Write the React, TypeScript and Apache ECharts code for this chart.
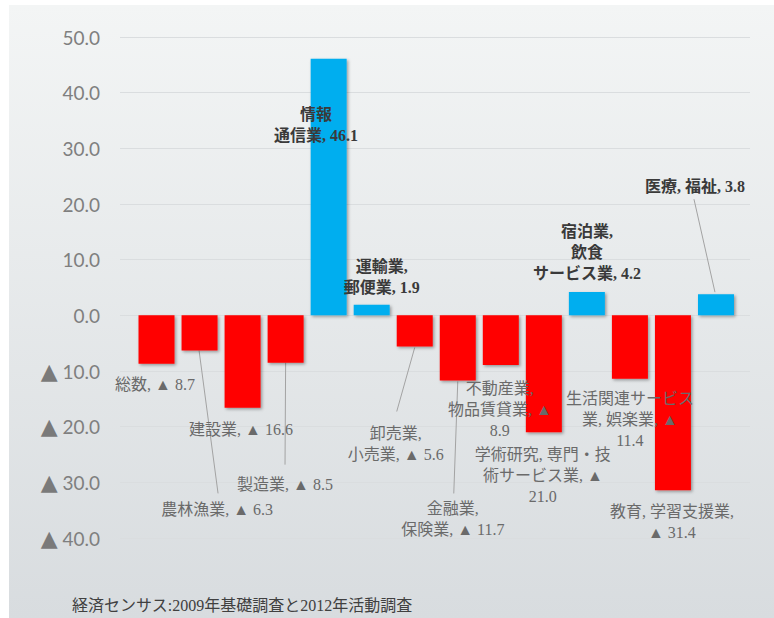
import React, { useEffect, useRef } from "react";
import * as echarts from "echarts";

// ---- data ----
const categories = [
  "総数",
  "農林漁業",
  "建設業",
  "製造業",
  "情報通信業",
  "運輸業,郵便業",
  "卸売業,小売業",
  "金融業,保険業",
  "不動産業,物品賃貸業",
  "学術研究,専門・技術サービス業",
  "宿泊業,飲食サービス業",
  "生活関連サービス業,娯楽業",
  "教育,学習支援業",
  "医療,福祉",
];
const values = [-8.7, -6.3, -16.6, -8.5, 46.1, 1.9, -5.6, -11.7, -8.9, -21.0, 4.2, -11.4, -31.4, 3.8];
const labelTexts = [
  "総数, ▲ 8.7",
  "農林漁業, ▲ 6.3",
  "建設業, ▲ 16.6",
  "製造業, ▲ 8.5",
  "情報\n通信業, 46.1",
  "運輸業,\n郵便業, 1.9",
  "卸売業,\n小売業, ▲ 5.6",
  "金融業,\n保険業, ▲ 11.7",
  "不動産業,\n物品賃貸業, ▲\n8.9",
  "学術研究, 専門・技\n術サービス業, ▲\n21.0",
  "宿泊業,\n飲食\nサービス業, 4.2",
  "生活関連サービス\n業, 娯楽業, ▲\n11.4",
  "教育, 学習支援業,\n▲ 31.4",
  "医療, 福祉, 3.8",
];
const yMin = -40;
const yMax = 50;
const yStep = 10;
const sourceNote = "経済センサス:2009年基礎調査と2012年活動調査";

// ---- layout (label placement relative to each bar's end) ----
const labelOffsets: [number, number][] = [
  [-1.5, 10],
  [17.5, 148.5],
  [-1.6, 11],
  [-0.6, 111],
  [-12.7, 45],
  [10, -49],
  [-19, 76],
  [-5, 118],
  [-1, 13],
  [-1, 11.6],
  [0, -71],
  [0, 9],
  [-1, 10.7],
  [-21, -118],
];
// [startDx, startDy (from bar end), endDx, endDy (from label anchor)]
const leaderLines: (null | [number, number, number, number])[] = [
  null,
  [-0.5, 0, 1, -5.5],
  null,
  [0, 0, 0, -9],
  null,
  null,
  [0, 1, 1, -11],
  [0, 1, 1, -5],
  null,
  null,
  null,
  null,
  null,
  [-1, -2, -1, 23],
];

const BLUE = "#00aeef";
const RED = "#ff0000";
const LABEL_FONT = '"Liberation Serif", "Noto Sans CJK JP", serif';

export default function App() {
  const ref = useRef<HTMLDivElement>(null);
  useEffect(() => {
    document.body.style.margin = "0";
    if (!ref.current) return;
    const chart = echarts.init(ref.current, undefined, { renderer: "svg" });
    const leaderData = values
      .map((v, i) => [i, v])
      .filter((d) => leaderLines[d[0]] != null);
    const option: any = {
      animation: false,
      graphic: [
        {
          type: "rect",
          z: -10,
          silent: true,
          shape: { x: 9, y: 5, width: 765, height: 613 },
          style: {
            fill: new echarts.graphic.LinearGradient(0, 0, 0, 1, [
              { offset: 0, color: "#f3f5f5" },
              { offset: 1, color: "#d8dcdf" },
            ]),
          },
        },
        {
          type: "text",
          left: 72,
          top: 597,
          style: { text: sourceNote, font: '16px "Liberation Serif", "Noto Sans CJK JP", serif', fill: "#404040" },
        },
      ],
      grid: [
        { left: 120, right: 24, top: 37, bottom: 80 },
        { left: 135, right: 36.5, top: 37, bottom: 80 },
      ],
      xAxis: [
        { type: "category", gridIndex: 0, data: [""], show: false },
        { type: "category", gridIndex: 1, data: categories, show: false },
      ],
      yAxis: [
        {
          type: "value",
          gridIndex: 0,
          min: yMin,
          max: yMax,
          interval: yStep,
          axisLine: { show: false },
          axisTick: { show: false },
          splitLine: { lineStyle: { color: "#dadddf", width: 1 } },
          axisLabel: {
            margin: 20,
            color: "#7f7f7f",
            fontFamily: "Lato",
            fontSize: 19,
            formatter: (v: number) => (v < 0 ? "{t|▲} " + (-v).toFixed(1) : v.toFixed(1)),
            rich: {
              t: { fontSize: 22, fontFamily: "DejaVu Sans", color: "#7a7a7a" },
            },
          },
        },
        { type: "value", gridIndex: 1, min: yMin, max: yMax, interval: yStep, show: false, splitLine: { show: false } },
      ],
      series: [
        {
          type: "bar",
          xAxisIndex: 1,
          yAxisIndex: 1,
          barWidth: 36,
          data: values.map((v) => ({
            value: v,
            itemStyle: { color: v >= 0 ? BLUE : RED },
            label: {
              color: v >= 0 ? "#3a3a3a" : "#6a6a6a",
              fontWeight: v >= 0 ? "bold" : "normal",
            },
          })),
          itemStyle: {
            shadowColor: "rgba(0,0,0,0.35)",
            shadowBlur: 3,
            shadowOffsetX: 1.5,
            shadowOffsetY: 1.5,
          },
          label: {
            show: true,
            position: "top",
            fontSize: 16,
            lineHeight: 21,
            fontFamily: LABEL_FONT,
            formatter: (p: any) => labelTexts[p.dataIndex],
          },
          labelLayout: (p: any) => {
            const i = p.dataIndex;
            const r = p.rect;
            const top = Math.min(r.y, r.y + r.height);
            const bottom = Math.max(r.y, r.y + r.height);
            const cx = r.x + r.width / 2;
            const end = values[i] >= 0 ? top : bottom;
            return {
              x: cx + labelOffsets[i][0],
              y: end + labelOffsets[i][1],
              align: "center",
              verticalAlign: "top",
            };
          },
        },
        {
          type: "custom",
          xAxisIndex: 1,
          yAxisIndex: 1,
          silent: true,
          data: leaderData,
          renderItem: (_params: any, api: any) => {
            const i = api.value(0);
            const v = api.value(1);
            const p = api.coord([i, v]);
            const off = labelOffsets[i];
            const ll = leaderLines[i]!;
            return {
              type: "line",
              shape: {
                x1: p[0] + ll[0],
                y1: p[1] + ll[1],
                x2: p[0] + off[0] + ll[2],
                y2: p[1] + off[1] + ll[3],
              },
              style: { stroke: "#a3a3a3", lineWidth: 1 },
            };
          },
        },
      ],
    };
    chart.setOption(option);
    return () => chart.dispose();
  }, []);
  return <div ref={ref} style={{ width: 774, height: 618 }} />;
}
